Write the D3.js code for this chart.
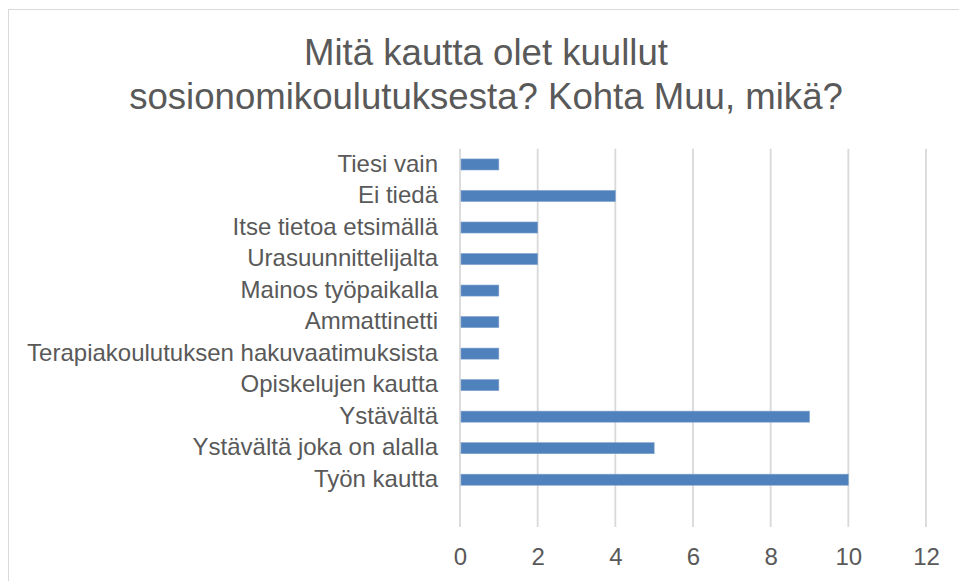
<!DOCTYPE html>
<html>
<head>
<meta charset="utf-8">
<script src="https://cdn.jsdelivr.net/npm/d3@7"></script>
<style>
  html, body { margin: 0; padding: 0; background: #fff; }
  svg { display: block; }
  text { font-family: "Liberation Sans", Arial, sans-serif; fill: #595959; }
</style>
</head>
<body>
<svg id="chart" width="959" height="581"></svg>
<script>
// ---- data ----
const titleLines = ["Mitä kautta olet kuullut", "sosionomikoulutuksesta? Kohta Muu, mikä?"];
const categories = [
  "Tiesi vain",
  "Ei tiedä",
  "Itse tietoa etsimällä",
  "Urasuunnittelijalta",
  "Mainos työpaikalla",
  "Ammattinetti",
  "Terapiakoulutuksen hakuvaatimuksista",
  "Opiskelujen kautta",
  "Ystävältä",
  "Ystävältä joka on alalla",
  "Työn kautta",
  ""
];
const values = [1, 4, 2, 2, 1, 1, 1, 1, 9, 5, 10, null];
const xTicks = [0, 2, 4, 6, 8, 10, 12];

// ---- layout ----
const svg = d3.select("#chart");
const plot = { left: 460, right: 926, top: 148.7, bottom: 527 };

// chart border
svg.append("rect")
  .attr("x", 8.5).attr("y", 9.5)
  .attr("width", 1000).attr("height", 1000)
  .attr("fill", "none").attr("stroke", "#d9d9d9").attr("stroke-width", 1);

// title
const title = svg.append("text")
  .attr("text-anchor", "middle")
  .style("font-size", "36.6px");
titleLines.forEach((t, i) => {
  title.append("tspan").attr("x", 486).attr("y", 64.5 + i * 44).text(t);
});

const x = d3.scaleLinear().domain([0, 12]).range([plot.left, plot.right]);
const y = d3.scaleBand()
  .domain(d3.range(categories.length))
  .range([plot.top, plot.bottom])
  .paddingInner(0.65)
  .paddingOuter(0.325);

// gridlines
svg.append("g").selectAll("line")
  .data(xTicks)
  .join("line")
  .attr("x1", d => x(d)).attr("x2", d => x(d))
  .attr("y1", plot.top).attr("y2", plot.bottom)
  .attr("stroke", "#d9d9d9").attr("stroke-width", 1.8);

// bars
const data = categories.map((c, i) => ({ i, c, v: values[i] })).filter(d => d.v != null);
svg.append("g").selectAll("rect")
  .data(data)
  .join("rect")
  .attr("x", x(0) + 1)
  .attr("y", d => y(d.i))
  .attr("width", d => x(d.v) - x(0) - 1)
  .attr("height", y.bandwidth())
  .attr("fill", "#4f81bd")
  .attr("stroke", "#7ea1cc")
  .attr("stroke-width", 0.6);

// category labels (y axis)
const yAxis = d3.axisLeft(y).tickSize(0).tickPadding(22).tickFormat(i => categories[i]);
const gy = svg.append("g").attr("transform", `translate(${plot.left},0)`).call(yAxis);
gy.select(".domain").remove();
gy.selectAll("text")
  .style("font-size", "24px")
  .style("font-family", "'Liberation Sans', Arial, sans-serif")
  .attr("fill", "#595959")
  .attr("dy", "0.3em");

// x axis labels
const xAxis = d3.axisBottom(x).tickValues(xTicks).tickSize(0).tickPadding(0).tickFormat(d3.format("d"));
const gx = svg.append("g").attr("transform", `translate(0,${plot.bottom})`).call(xAxis);
gx.select(".domain").remove();
gx.selectAll("text")
  .style("font-size", "24px")
  .style("font-family", "'Liberation Sans', Arial, sans-serif")
  .attr("fill", "#595959")
  .attr("dy", null)
  .attr("y", 38);
</script>
</body>
</html>
